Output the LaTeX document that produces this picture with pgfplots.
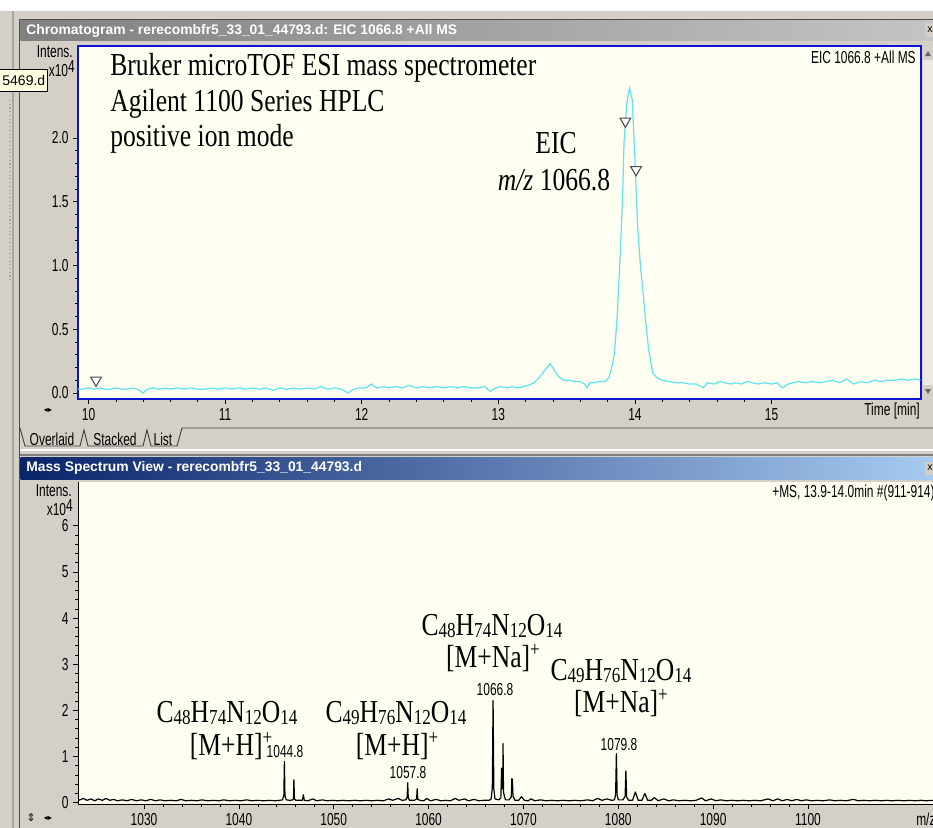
\documentclass[border=0pt]{standalone}
\usepackage{fontspec}
\usepackage{graphicx}
\usepackage{pgfplots}
\pgfplotsset{compat=1.18}
\setmainfont{Liberation Serif}
\setsansfont{Liberation Sans}
\newfontfamily\ui{Liberation Sans}
\newfontfamily\symf{DejaVu Sans}
\definecolor{guigray}{RGB}{212,208,200}
\definecolor{guidark}{RGB}{128,128,128}
\definecolor{cream}{RGB}{255,255,242}
\definecolor{trace}{RGB}{95,228,238}
\definecolor{frameblue}{RGB}{10,20,210}
\definecolor{navyA}{RGB}{10,36,106}
\definecolor{skyB}{RGB}{166,202,240}
\definecolor{inactA}{RGB}{128,128,128}
\definecolor{inactB}{RGB}{196,196,196}
\definecolor{tipyellow}{RGB}{255,255,225}
\definecolor{scrollc}{RGB}{236,233,225}
\newcommand\uitext[1]{\scalebox{0.69}[1]{\fontsize{13}{14}\selectfont\ui #1}}
\newcommand\ann[1]{\scalebox{0.8}[1]{\fontsize{24}{26}\selectfont #1}}
\newcommand\sub[1]{\raisebox{-2pt}{\fontsize{16}{16}\selectfont #1}}
\newcommand\supp[1]{\raisebox{8pt}{\fontsize{16}{16}\selectfont #1}}
\newcommand\formula[4]{C\sub{#1}H\sub{#2}N\sub{#3}O\sub{#4}}
\begin{document}
\begin{tikzpicture}
\useasboundingbox (0pt,0pt) rectangle (699.75pt,-621pt);
\clip (0pt,0pt) rectangle (699.75pt,-621pt);
% ---------- GUI background ----------
\begin{scope}[x=0.75pt,y=-0.75pt]
\fill[white] (0,0) rectangle (933,11);
\fill[guigray] (0,11) rectangle (933,828);
\draw[guidark!70!white, dotted, line width=0.8pt] (10,100) -- (10,280);
\draw[guidark!70!white, line width=0.8pt] (13,11) -- (13,828);
\draw[guidark!60!black, line width=1pt] (19.5,19) -- (19.5,828);
\draw[guidark!60!black, line width=1pt] (19.5,19.5) -- (933,19.5);
% top title bar
\shade[left color=inactA, right color=inactB] (20.5,20.5) rectangle (933,40);
\node[anchor=west, text=white, inner sep=0pt] at (26,31)
  {\fontsize{10.4}{12}\selectfont\ui\bfseries Chromatogram - rerecombfr5\_33\_01\_44793.d: EIC 1066.8 +All MS};
\fill[guigray] (925,23) rectangle (935,37);
\node[inner sep=0pt] at (930,30) {\fontsize{8}{8}\selectfont\ui x};
% tabs
\draw[guidark!50!black, line width=0.7pt]
  (20,428) -- (25,446) -- (80,446) -- (84,430) -- (88,446) -- (143,446) -- (147,430)
  -- (151,446) -- (177,446) -- (182,428) -- (933,428);
\draw[white, line width=1pt] (20,450) -- (933,450);
\draw[guidark, line width=1pt] (20,455) -- (933,455);
% bottom title bar
\shade[left color=navyA, right color=skyB] (20.5,457) rectangle (933,479);
\node[anchor=west, text=white, inner sep=0pt] at (26,468)
  {\fontsize{10.4}{12}\selectfont\ui\bfseries Mass Spectrum View - rerecombfr5\_33\_01\_44793.d};
\fill[guigray] (925,462) rectangle (935,475);
\node[inner sep=0pt] at (930,468) {\fontsize{8}{8}\selectfont\ui x};
\end{scope}
% ---------- Chromatogram ----------
\begin{axis}[
  at={(58.5pt,-299.25pt)}, anchor=south west,
  scale only axis, width=632.25pt, height=264.75pt,
  xmin=9.923, xmax=16.094, ymin=-0.047, ymax=2.72,
  axis background/.style={fill=cream},
  axis line style={draw=frameblue, line width=1.4pt},
  xtick={10,11,12,13,14,15}, minor x tick num=4,
  ytick={0,0.5,1,1.5,2}, minor y tick num=4,
  xtick pos=left, ytick pos=left,
  tick align=outside,
  major tick length=3.5pt, minor tick length=2.2pt,
  tick style={black, line width=0.5pt},
  /pgf/number format/assume math mode=true,
  xticklabel={\uitext{\pgfmathprintnumber[fixed,precision=0]{\tick}}},
  yticklabel={\uitext{\pgfmathprintnumber[fixed,fixed zerofill,precision=1]{\tick}}},
]
\addplot[trace, line width=0.9pt] table {
9.92 0.03
9.96 0.03
10.00 0.04
10.04 0.03
10.08 0.04
10.12 0.03
10.16 0.03
10.20 0.04
10.24 0.03
10.28 0.03
10.32 0.04
10.36 0.03
10.40 0.00
10.43 0.03
10.47 0.04
10.52 0.03
10.56 0.04
10.60 0.03
10.65 0.04
10.70 0.03
10.75 0.04
10.80 0.03
10.85 0.03
10.90 0.04
10.95 0.03
11.00 0.04
11.05 0.03
11.10 0.04
11.15 0.03
11.20 0.04
11.25 0.03
11.30 0.04
11.35 0.02
11.40 0.04
11.45 0.03
11.50 0.04
11.55 0.03
11.60 0.04
11.65 0.03
11.70 0.05
11.75 0.03
11.80 0.04
11.85 0.03
11.90 0.00
11.94 0.03
11.98 0.04
12.03 0.04
12.07 0.07
12.11 0.04
12.16 0.05
12.20 0.04
12.25 0.05
12.30 0.04
12.35 0.06
12.40 0.04
12.45 0.05
12.50 0.04
12.55 0.05
12.60 0.04
12.65 0.05
12.70 0.04
12.75 0.05
12.80 0.04
12.85 0.04
12.90 0.05
12.94 0.01
12.98 0.04
13.02 0.05
13.06 0.04
13.10 0.05
13.14 0.04
13.18 0.05
13.22 0.06
13.26 0.08
13.30 0.12
13.34 0.18
13.38 0.23
13.41 0.18
13.44 0.13
13.48 0.10
13.52 0.10
13.56 0.09
13.60 0.09
13.63 0.07
13.65 0.04
13.67 0.08
13.70 0.08
13.74 0.09
13.78 0.09
13.81 0.12
13.83 0.20
13.85 0.31
13.87 0.60
13.89 1.04
13.91 1.55
13.92 1.96
13.94 2.27
13.96 2.39
13.98 2.30
14.00 1.83
14.02 1.30
14.04 1.00
14.06 0.78
14.08 0.55
14.10 0.34
14.13 0.16
14.16 0.12
14.20 0.10
14.25 0.09
14.30 0.08
14.35 0.08
14.40 0.07
14.45 0.07
14.50 0.04
14.53 0.08
14.58 0.07
14.62 0.09
14.66 0.08
14.70 0.07
14.74 0.08
14.78 0.07
14.82 0.09
14.86 0.08
14.90 0.07
14.95 0.08
15.00 0.07
15.04 0.08
15.08 0.04
15.12 0.07
15.16 0.08
15.20 0.09
15.25 0.08
15.30 0.09
15.35 0.08
15.40 0.09
15.45 0.10
15.50 0.08
15.55 0.11
15.60 0.07
15.65 0.09
15.70 0.08
15.75 0.10
15.80 0.09
15.85 0.10
15.90 0.10
15.95 0.11
16.00 0.10
16.05 0.11
16.09 0.10
};
\addplot[only marks, mark=triangle*, mark size=4.6pt,
  mark options={rotate=180, fill=white, draw=black!70, line width=0.8pt}]
  coordinates {(10.055,0.10) (13.93,2.13) (14.008,1.75)};
\end{axis}
% ---------- Mass spectrum ----------
\begin{axis}[
  at={(58.5pt,-603pt)}, anchor=south west,
  scale only axis, width=641.25pt, height=241.5pt,
  xmin=1023.04, xmax=1113.18, ymin=-0.03, ymax=6.95,
  axis background/.style={fill=cream},
  axis x line*=bottom, axis y line*=left,
  axis line style={black, line width=0.6pt, -},
  xtick={1030,1040,1050,1060,1070,1080,1090,1100}, minor x tick num=4,
  ytick={0,1,2,3,4,5,6}, minor y tick num=4,
  tick align=outside,
  major tick length=3.5pt, minor tick length=2.2pt,
  tick style={black, line width=0.5pt},
  /pgf/number format/assume math mode=true,
  xticklabel={\uitext{\pgfmathprintnumber[fixed,precision=0,1000 sep={}]{\tick}}},
  yticklabel={\uitext{\pgfmathprintnumber[fixed,precision=0]{\tick}}},
]
\addplot[black, line width=0.9pt, line join=round] table {
1023.1 0.05
1023.6 0.09
1024.0 0.05
1024.4 0.08
1024.8 0.04
1025.2 0.08
1025.6 0.05
1026.0 0.09
1026.4 0.05
1026.8 0.07
1027.2 0.04
1027.7 0.06
1028.2 0.04
1028.7 0.07
1029.2 0.04
1029.7 0.06
1030.2 0.04
1030.7 0.07
1031.2 0.04
1031.7 0.06
1032.2 0.04
1032.8 0.05
1033.4 0.04
1033.9 0.07
1034.4 0.04
1035.0 0.05
1035.6 0.04
1036.1 0.06
1036.7 0.04
1037.3 0.05
1037.9 0.04
1038.4 0.06
1039.0 0.04
1039.6 0.05
1040.2 0.04
1040.8 0.06
1041.4 0.04
1042.0 0.05
1042.6 0.04
1043.2 0.05
1043.8 0.04
1044.3 0.05
1044.6 0.06
1044.74 0.15
1044.8 0.89
1044.86 0.15
1045.0 0.06
1045.4 0.05
1045.7 0.06
1045.76 0.10
1045.8 0.50
1045.86 0.08
1046.0 0.05
1046.4 0.05
1046.7 0.05
1046.8 0.17
1046.9 0.05
1047.3 0.04
1047.8 0.08
1048.2 0.04
1048.8 0.06
1049.3 0.04
1049.9 0.05
1050.4 0.04
1051.0 0.05
1051.6 0.04
1052.2 0.05
1052.8 0.04
1053.4 0.05
1054.0 0.04
1054.6 0.05
1055.2 0.04
1055.8 0.08
1056.2 0.05
1056.8 0.09
1057.2 0.05
1057.6 0.06
1057.74 0.12
1057.8 0.43
1057.86 0.10
1058.0 0.05
1058.5 0.05
1058.74 0.08
1058.8 0.30
1058.86 0.07
1059.1 0.05
1059.5 0.04
1059.8 0.09
1060.2 0.04
1060.8 0.07
1061.3 0.04
1061.8 0.05
1062.3 0.04
1062.8 0.09
1063.2 0.05
1063.8 0.08
1064.2 0.04
1064.8 0.07
1065.3 0.04
1065.8 0.05
1066.4 0.05
1066.6 0.08
1066.72 0.32
1066.8 2.21
1066.88 0.30
1067.0 0.08
1067.4 0.06
1067.62 0.10
1067.7 0.75
1067.76 0.30
1067.82 0.40
1067.85 1.28
1067.9 0.22
1068.1 0.06
1068.5 0.06
1068.72 0.12
1068.78 0.52
1068.84 0.50
1068.9 0.14
1069.1 0.05
1069.5 0.05
1069.8 0.13
1070.1 0.05
1070.5 0.04
1070.8 0.08
1071.2 0.04
1071.8 0.06
1072.4 0.04
1073.0 0.05
1073.6 0.04
1074.2 0.05
1074.8 0.04
1075.4 0.05
1076.0 0.04
1076.8 0.06
1077.3 0.04
1077.8 0.09
1078.3 0.05
1078.8 0.08
1079.3 0.05
1079.6 0.06
1079.72 0.18
1079.8 1.06
1079.88 0.16
1080.0 0.06
1080.5 0.06
1080.72 0.14
1080.8 0.69
1080.88 0.12
1081.1 0.05
1081.5 0.05
1081.8 0.23
1082.1 0.05
1082.5 0.05
1082.8 0.20
1083.1 0.05
1083.5 0.05
1083.8 0.11
1084.2 0.04
1084.8 0.08
1085.3 0.04
1085.8 0.06
1086.4 0.04
1087.0 0.05
1087.6 0.04
1088.2 0.05
1088.8 0.10
1089.2 0.04
1089.8 0.08
1090.3 0.04
1090.8 0.06
1091.4 0.04
1092.0 0.05
1092.6 0.04
1093.2 0.05
1093.8 0.04
1094.4 0.05
1095.0 0.04
1095.8 0.08
1096.3 0.04
1096.8 0.08
1097.3 0.04
1097.8 0.07
1098.3 0.04
1098.8 0.07
1099.3 0.04
1099.8 0.06
1100.4 0.04
1101.0 0.05
1101.6 0.04
1102.3 0.06
1102.8 0.04
1103.4 0.05
1104.0 0.04
1104.8 0.07
1105.3 0.04
1105.9 0.05
1106.5 0.04
1107.1 0.05
1107.7 0.04
1108.3 0.05
1108.9 0.04
1109.5 0.05
1110.1 0.04
1110.7 0.05
1111.3 0.04
1111.9 0.05
1112.5 0.04
1113.2 0.05
};
\end{axis}
% ---------- overlays ----------
\begin{scope}[x=0.75pt,y=-0.75pt]
% scroll bar top panel
\fill[scrollc] (922.5,46) rectangle (933,399);
\fill[guigray] (922.5,46) rectangle (933,60);
\fill[guigray] (922.5,385) rectangle (933,399);
\fill[black!60] (925,56) -- (931,56) -- (928,51) -- cycle;
\fill[black!60] (925,389) -- (931,389) -- (928,394) -- cycle;
% tooltip
\draw[black, fill=tipyellow, line width=0.6pt] (-1,69) rectangle (47,91);
\node[anchor=east, inner sep=0pt] at (45.5,80) {\fontsize{10.5}{12}\selectfont\ui 5469.d};
% axis captions
\node[anchor=east, inner sep=0pt] at (73,52) {\uitext{Intens.}};
\node[anchor=east, inner sep=0pt] at (75,69) {\uitext{x10\raisebox{3pt}{4}}};
\node[anchor=east, inner sep=0pt] at (72,491) {\uitext{Intens.}};
\node[anchor=east, inner sep=0pt] at (73,508) {\uitext{x10\raisebox{3pt}{4}}};
\node[anchor=east, inner sep=0pt] at (916,57) {\uitext{EIC 1066.8 +All MS}};
\node[anchor=west, inner sep=0pt] at (772,493) {\uitext{+MS, 13.9-14.0min \#(911-914)}};
\node[anchor=east, inner sep=0pt] at (920,411) {\uitext{Time [min]}};
\node[anchor=west, inner sep=0pt] at (916,819) {\uitext{m/z}};
\node[inner sep=0pt] at (48,410) {\fontsize{6}{6}\selectfont\symf ◂▸};
\node[inner sep=0pt] at (48,818) {\fontsize{6}{6}\selectfont\symf ◂▸};
\node[inner sep=0pt] at (31,818) {\fontsize{8}{8}\selectfont\symf ⇕};
% tabs
\node[inner sep=0pt] at (52,439) {\uitext{Overlaid}};
\node[inner sep=0pt] at (115,439) {\uitext{Stacked}};
\node[inner sep=0pt] at (163,439) {\uitext{List}};
% annotations top
\node[anchor=base west, inner sep=0pt] at (110,75) {\ann{Bruker microTOF ESI mass spectrometer}};
\node[anchor=base west, inner sep=0pt] at (110,111) {\ann{Agilent 1100 Series HPLC}};
\node[anchor=base west, inner sep=0pt] at (110,146) {\ann{positive ion mode}};
\node[anchor=base, inner sep=0pt] at (556,153) {\ann{EIC}};
\node[anchor=base, inner sep=0pt] at (554,190) {\ann{\textit{m/z} 1066.8}};
% annotations bottom
\node[anchor=base, inner sep=0pt] at (227,722) {\ann{\formula{48}{74}{12}{14}}};
\node[anchor=base, inner sep=0pt] at (231,755) {\ann{[M+H]\supp{+}}};
\node[anchor=base, inner sep=0pt] at (285,757) {\uitext{1044.8}};
\node[anchor=base, inner sep=0pt] at (396,722) {\ann{\formula{49}{76}{12}{14}}};
\node[anchor=base, inner sep=0pt] at (397,755) {\ann{[M+H]\supp{+}}};
\node[anchor=base, inner sep=0pt] at (408,778) {\uitext{1057.8}};
\node[anchor=base, inner sep=0pt] at (492,635) {\ann{\formula{48}{74}{12}{14}}};
\node[anchor=base, inner sep=0pt] at (493,667) {\ann{[M+Na]\supp{+}}};
\node[anchor=base, inner sep=0pt] at (495,695) {\uitext{1066.8}};
\node[anchor=base, inner sep=0pt] at (621,680) {\ann{\formula{49}{76}{12}{14}}};
\node[anchor=base, inner sep=0pt] at (621,712) {\ann{[M+Na]\supp{+}}};
\node[anchor=base, inner sep=0pt] at (619,750) {\uitext{1079.8}};
\end{scope}
\end{tikzpicture}
\end{document}
